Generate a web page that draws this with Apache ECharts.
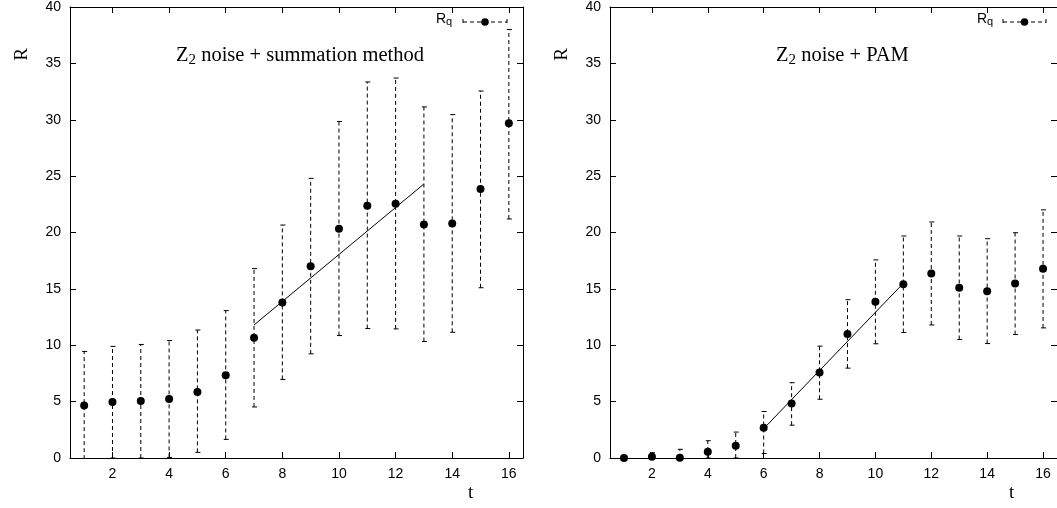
<!DOCTYPE html>
<html>
<head>
<meta charset="utf-8">
<script src="https://cdn.jsdelivr.net/npm/echarts@6/dist/echarts.min.js"></script>
<style>html,body{margin:0;padding:0;background:#fff}#c{width:1057px;height:508px}</style>
</head>
<body>
<div id="c"></div>
<script>
// ---- data ----
const tVals = [1,2,3,4,5,6,7,8,9,10,11,12,13,14,15,16];
const sumR  = [4.65,4.97,5.05,5.24,5.86,7.33,10.66,13.8,17.0,20.34,22.37,22.55,20.7,20.8,23.85,29.7];
const sumHi = [9.45,9.9,10.07,10.42,11.35,13.07,16.8,20.66,24.8,29.85,33.35,33.7,31.14,30.46,32.55,38.0];
const sumLo = [-0.1,0.0,0.0,0.05,0.5,1.65,4.53,6.97,9.24,10.86,11.48,11.45,10.33,11.15,15.1,21.2];
const pamR  = [0.0,0.12,0.02,0.56,1.09,2.68,4.83,7.59,11.0,13.86,15.42,16.36,15.1,14.8,15.48,16.78];
const pamHi = [0.0,0.47,0.77,1.53,2.3,4.12,6.68,9.92,14.04,17.57,19.69,20.93,19.69,19.45,19.98,22.01];
const pamLo = [0.0,0.0,0.0,0.0,0.0,0.4,2.91,5.21,7.97,10.13,11.13,11.8,10.51,10.15,10.95,11.54];
const sumFitT = [7,13], sumFitR = [11.8,24.3];
const pamFitT = [6,11], pamFitR = [2.6,15.5];
const xTicks = [2,4,6,8,10,12,14,16];
const yTicks = [0,5,10,15,20,25,30,35,40];
const titles = [['Z','2',' noise + summation method'],['Z','2',' noise + PAM']];
const legendName = ['R','q'];

const chart = echarts.init(document.getElementById('c'), null, {renderer:'canvas'});
const serif = '"Liberation Serif", "DejaVu Serif", serif';
const sans = '"Liberation Sans", Arial, sans-serif';

function xAx(grid, pos, labels){
  return {type:'value', gridIndex:grid, position:pos, min:0.5, max:16.5,
    axisLine:{show:true, onZero:false, lineStyle:{color:'#000', width:1}},
    axisTick:{show:true, inside:true, length:6, customValues:xTicks, lineStyle:{color:'#000'}},
    axisLabel:{show:labels, customValues:xTicks, color:'#000', fontFamily:sans, fontSize:14, margin:9},
    splitLine:{show:false}};
}
function yAx(grid, pos, labels){
  return {type:'value', gridIndex:grid, position:pos, min:0, max:40, interval:5,
    axisLine:{show:true, onZero:false, lineStyle:{color:'#000', width:1}},
    axisTick:{show:true, inside:true, length:6, lineStyle:{color:'#000'}},
    axisLabel:{show:labels, color:'#000', fontFamily:sans, fontSize:14, margin:9},
    splitLine:{show:false}};
}
function errRender(params, api){
  const x = api.value(0), lo = api.value(1), hi = api.value(2);
  const a = api.coord([x, lo]), b = api.coord([x, hi]);
  const cw = 3;
  const st = {stroke:'#000', lineWidth:1};
  return {type:'group', children:[
    {type:'line', shape:{x1:a[0], y1:a[1], x2:b[0], y2:b[1]}, style:{stroke:'#000', lineWidth:1, lineDash:[4,3]}},
    {type:'line', shape:{x1:a[0]-cw+1, y1:a[1], x2:a[0]+cw, y2:a[1]}, style:st},
    {type:'line', shape:{x1:b[0]-cw+1, y1:b[1], x2:b[0]+cw, y2:b[1]}, style:st}
  ]};
}
function zip3(a,b,c){ return a.map((v,i)=>[v,b[i],c[i]]); }
function zip2(a,b){ return a.map((v,i)=>[v,b[i]]); }

function panelSeries(g, R, Hi, Lo, fitT, fitR){
  return [
    {type:'custom', xAxisIndex:2*g, yAxisIndex:2*g, renderItem:errRender, clip:true,
     data: zip3(tVals, Lo, Hi), silent:true, z:2},
    {type:'line', xAxisIndex:2*g, yAxisIndex:2*g, data: zip2(fitT, fitR), showSymbol:false, symbol:'none',
     lineStyle:{color:'#000', width:1}, silent:true, z:3, animation:false},
    {type:'scatter', xAxisIndex:2*g, yAxisIndex:2*g, data: zip2(tVals, R), symbol:'circle', symbolSize:8,
     itemStyle:{color:'#000', opacity:1}, silent:true, z:4, clip:true}
  ];
}

function titleGraphic(x, y, parts){
  return {type:'text', left:x, top:y, style:{
    text:'{n|'+parts[0]+'}{s|'+parts[1]+'}{n|'+parts[2]+'}',
    rich:{
      n:{fontFamily:serif, fontSize:20.5, color:'#000', verticalAlign:'top', lineHeight:23},
      s:{fontFamily:serif, fontSize:15, color:'#000', verticalAlign:'bottom', lineHeight:15}
    }, lineHeight:29, fill:'#000'}};
}
function legendGraphic(tx, x1, x2, y){
  const mid = (x1+x2)/2;
  return [
    {type:'text', left:tx, top:y-10, style:{text:'{n|'+legendName[0]+'}{s|'+legendName[1]+'}',
      rich:{n:{fontFamily:sans, fontSize:14, verticalAlign:'top', lineHeight:15, color:'#000'},
            s:{fontFamily:sans, fontSize:11, verticalAlign:'bottom', lineHeight:11, color:'#000'}}, lineHeight:19}},
    {type:'line', shape:{x1:x1, y1:y, x2:x2, y2:y}, style:{stroke:'#000', lineWidth:1, lineDash:[4,3]}},
    {type:'line', shape:{x1:x1, y1:y-3, x2:x1, y2:y+1}, style:{stroke:'#000', lineWidth:1}},
    {type:'line', shape:{x1:x2, y1:y-3, x2:x2, y2:y+1}, style:{stroke:'#000', lineWidth:1}},
    {type:'circle', shape:{cx:mid, cy:y, r:3.8}, style:{fill:'#000'}}
  ];
}

const option = {
  animation:false,
  backgroundColor:'#fff',
  grid:[
    {left:70, top:5, width:453, height:453},
    {left:610, top:5, width:453, height:453}
  ],
  xAxis:[xAx(0,'bottom',true), xAx(0,'top',false), xAx(1,'bottom',true), xAx(1,'top',false)],
  yAxis:[yAx(0,'left',true), yAx(0,'right',false), yAx(1,'left',true), yAx(1,'right',false)],
  series:[].concat(
    panelSeries(0, sumR, sumHi, sumLo, sumFitT, sumFitR),
    panelSeries(1, pamR, pamHi, pamLo, pamFitT, pamFitR)
  ),
  graphic:[].concat([
    titleGraphic(176, 45, titles[0]),
    titleGraphic(776, 45, titles[1]),
    {type:'text', left:13, top:48, rotation:Math.PI/2, style:{text:'R', fontFamily:serif, fontSize:19, fill:'#000'}},
    {type:'text', left:553, top:48, rotation:Math.PI/2, style:{text:'R', fontFamily:serif, fontSize:19, fill:'#000'}},
    {type:'text', left:468, top:484, style:{text:'t', fontFamily:serif, fontSize:19, fill:'#000'}},
    {type:'text', left:1009, top:484, style:{text:'t', fontFamily:serif, fontSize:19, fill:'#000'}}
  ], legendGraphic(436, 463, 507, 22), legendGraphic(977, 1003, 1046, 22))
};
chart.setOption(option);
</script>
</body>
</html>
